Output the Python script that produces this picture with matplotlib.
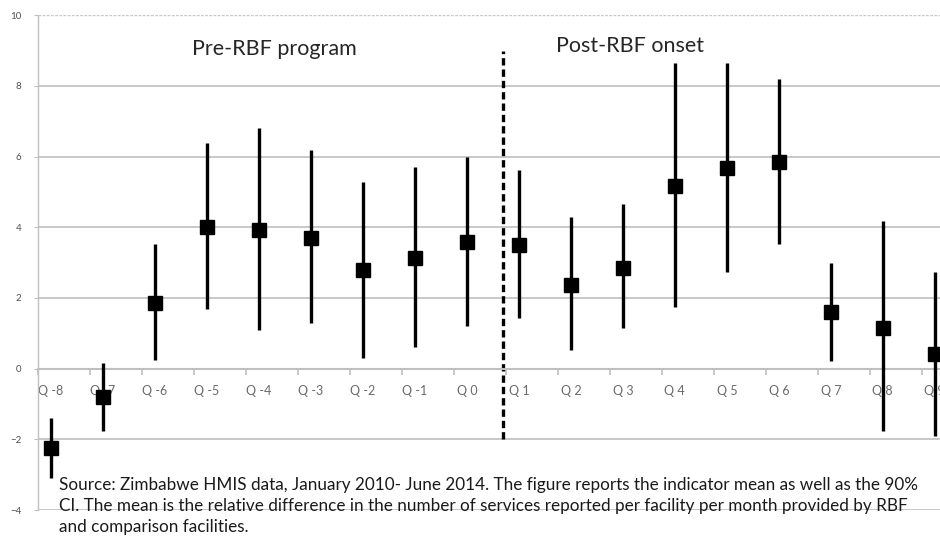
import numpy as np
import matplotlib.pyplot as plt

# Data
quarters = ['Q -8', 'Q -7', 'Q -6', 'Q -5', 'Q -4', 'Q -3', 'Q -2', 'Q -1', 'Q 0',
            'Q 1', 'Q 2', 'Q 3', 'Q 4', 'Q 5', 'Q 6', 'Q 7', 'Q 8', 'Q 9']
mean = [-2.24, -0.79, 1.87, 4.00, 3.91, 3.71, 2.78, 3.12, 3.57,
        3.51, 2.38, 2.86, 5.16, 5.67, 5.84, 1.59, 1.16, 0.40]
ci_low = [-3.09, -1.76, 0.25, 1.70, 1.08, 1.30, 0.31, 0.62, 1.22,
          1.42, 0.54, 1.16, 1.73, 2.72, 3.54, 0.23, -1.76, -1.90]
ci_high = [-1.39, 0.17, 3.54, 6.37, 6.80, 6.20, 5.27, 5.70, 5.98,
           5.61, 4.28, 4.65, 8.64, 8.64, 8.19, 3.00, 4.19, 2.72]
y_ticks = [-4, -2, 0, 2, 4, 6, 8, 10]
onset = 8.69  # position of the RBF onset line (between Q 0 and Q 1)

plt.rcParams['font.family'] = ['Lato', 'DejaVu Sans']

fig = plt.figure(figsize=(9.4, 5.39), dpi=100)
ax = fig.add_axes([0.0404, 0.0538, 0.9596, 0.918])

x = np.arange(len(quarters))
mean = np.array(mean)
lo = mean - np.array(ci_low)
hi = np.array(ci_high) - mean

# gridlines
for yv in y_ticks:
    if yv in (0, 10):
        continue
    ax.axhline(yv, color='#bfbfbf', linewidth=1.2, zorder=1)
ax.axhline(10, color='#c8c8c8', linewidth=1.0, linestyle=(0, (2, 1)), zorder=1)

ax.errorbar(x, mean, yerr=[lo, hi], fmt='s', color='black', ecolor='black',
            elinewidth=2.4, markersize=10.5, capsize=0, zorder=3, clip_on=False)

ax.plot([onset, onset], [-2.0, 9.0], color='black', linewidth=2.4,
        linestyle=(0, (2.2, 1.2)), zorder=2)

ax.text(4.29, 9.05, 'Pre-RBF program', fontsize=15.5, ha='center', va='center',
        color='#262626')
ax.text(11.13, 9.13, 'Post-RBF onset', fontsize=15.5, ha='center', va='center',
        color='#262626')

for s in ['right', 'top']:
    ax.spines[s].set_visible(False)
ax.spines['left'].set_color('#c0c0c0')
ax.spines['left'].set_linestyle((0, (2, 1)))
ax.spines['left'].set_linewidth(1.0)
ax.spines['bottom'].set_position(('data', 0))
ax.spines['bottom'].set_color('#bfbfbf')
ax.spines['bottom'].set_linewidth(1.5)

ax.set_xticks(x)
ax.set_xticklabels(quarters)
ax.set_xticks(np.arange(len(quarters) + 1) - 0.25, minor=True)
ax.tick_params(axis='x', which='major', length=0, pad=12, labelsize=9,
               labelcolor='#6a6a6a')
ax.tick_params(axis='x', which='minor', length=4, color='#bfbfbf', width=1.2)

ax.set_yticks(y_ticks)
ax.tick_params(axis='y', length=3, color='#bfbfbf', labelsize=7,
               labelcolor='#505050', pad=9)

ax.set_xlim(-0.25, 17.1)
ax.set_ylim(-4, 10)

note = ("Source: Zimbabwe HMIS data, January 2010- June 2014. The figure reports the indicator mean as well as the 90%\n"
        "CI. The mean is the relative difference in the number of services reported per facility per month provided by RBF\n"
        "and comparison facilities.")
fig.text(59 / 940, 1 - 477 / 539, note, fontsize=12.3, ha='left', va='top',
         color='#1a1a1a', linespacing=1.38)

fig.savefig('out.png', dpi=100)
